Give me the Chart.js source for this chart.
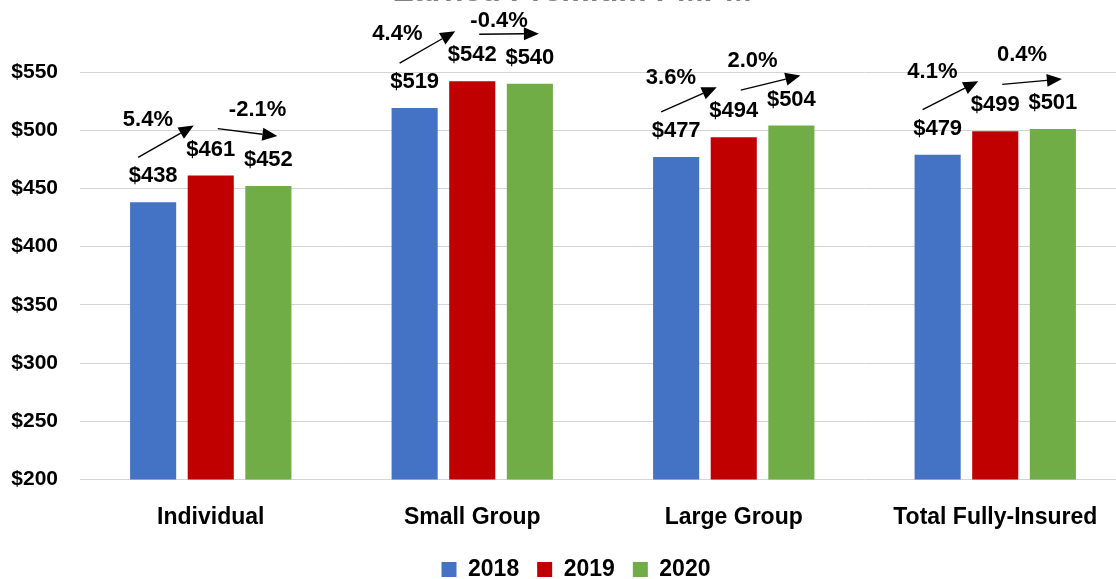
<!DOCTYPE html>
<html>
<head>
<meta charset="utf-8">
<script src="https://cdn.jsdelivr.net/npm/chart.js@4/dist/chart.umd.min.js"></script>
<style>
  html, body { margin: 0; padding: 0; background: #fff; overflow: hidden; }
  #wrap { position: absolute; left: 0; top: -20px; width: 1126px; height: 615px; }
</style>
</head>
<body>
<div id="wrap"><canvas id="premiumChart"></canvas></div>
<script>
// chart data
const titleText = 'Earned Premium PMPM';
const categories = ['Individual', 'Small Group', 'Large Group', 'Total Fully-Insured'];
const years = ['2018', '2019', '2020'];
const values2018 = [438, 519, 477, 479];
const values2019 = [461, 542, 494, 499];
const values2020 = [452, 540, 504, 501];
const change2019 = ['5.4%', '4.4%', '3.6%', '4.1%'];
const change2020 = ['-2.1%', '-0.4%', '2.0%', '0.4%'];
const yTicks = [200, 250, 300, 350, 400, 450, 500, 550];

// the % labels were placed by hand in the original, small per-group nudges
const nudge2019 = [[0, 0], [-12, 9], [0, 0], [0, -2]];
const nudge2020 = [[15, 0], [-5, 9], [-13, 0], [-5, -5]];

const FONT = "'Liberation Sans', Arial, sans-serif";

function drawArrow(ctx, x1, y1, x2, y2) {
    const ang = Math.atan2(y2 - y1, x2 - x1);
    const head = 15, half = 6.5;
    const bx = x2 - head * Math.cos(ang), by = y2 - head * Math.sin(ang);
    ctx.beginPath();
    ctx.moveTo(x1, y1);
    ctx.lineTo(bx, by);
    ctx.lineWidth = 1.4;
    ctx.strokeStyle = '#000';
    ctx.stroke();
    ctx.beginPath();
    ctx.moveTo(x2, y2);
    ctx.lineTo(bx + half * Math.sin(ang), by - half * Math.cos(ang));
    ctx.lineTo(bx - half * Math.sin(ang), by + half * Math.cos(ang));
    ctx.closePath();
    ctx.fillStyle = '#000';
    ctx.fill();
}

// value labels, change arrows and the clipped title
const annotations = {
    id: 'annotations',
    afterLayout(chart) {
        // nudge the legend a little to the right, like the original
        chart.legend.left += 13;
        chart.legend.right += 13;
    },
    afterDatasetsDraw(chart) {
        const ctx = chart.ctx;
        const metas = [0, 1, 2].map(i => chart.getDatasetMeta(i));
        ctx.save();
        ctx.textAlign = 'center';
        ctx.textBaseline = 'middle';
        ctx.fillStyle = '#000';
        ctx.font = 'bold 22px ' + FONT;
        metas.forEach((meta, di) => {
            meta.data.forEach((bar, i) => {
                const v = chart.data.datasets[di].data[i];
                ctx.fillText('$' + v, bar.x, bar.y - 26);
            });
        });
        categories.forEach((c, i) => {
            const b1 = metas[0].data[i], b2 = metas[1].data[i], b3 = metas[2].data[i];
            const a = [b1.x - 15, b1.y - 45, b2.x - 17, b2.y - 50];
            const b = [b2.x + 7, b2.y - 47, b3.x + 9, b3.y - 50];
            drawArrow(ctx, a[0], a[1], a[2], a[3]);
            drawArrow(ctx, b[0], b[1], b[2], b[3]);
            ctx.fillText(change2019[i], (a[0] + a[2]) / 2 - 18 + nudge2019[i][0], (a[1] + a[3]) / 2 - 22 + nudge2019[i][1]);
            ctx.fillText(change2020[i], (b[0] + b[2]) / 2 - 5 + nudge2020[i][0], (b[1] + b[3]) / 2 - 22 + nudge2020[i][1]);
        });
        ctx.font = 'bold 32px ' + FONT;
        ctx.fillStyle = '#808080';
        ctx.textBaseline = 'alphabetic';
        ctx.fillText(titleText, 572, 21);
        ctx.restore();
    }
};

const ctx = document.getElementById('premiumChart').getContext('2d');
new Chart(ctx, {
    type: 'bar',
    data: {
        labels: categories,
        datasets: [
            { label: years[0], data: values2018, backgroundColor: '#4472C4' },
            { label: years[1], data: values2019, backgroundColor: '#C00000' },
            { label: years[2], data: values2020, backgroundColor: '#70AD47' }
        ]
    },
    options: {
        responsive: true,
        maintainAspectRatio: false,
        animation: false,
        layout: { padding: { top: 92, left: 0, right: 0, bottom: 4 } },
        datasets: { bar: { barPercentage: 0.8, categoryPercentage: 0.661 } },
        scales: {
            x: {
                grid: { display: false },
                border: { display: false },
                afterFit: s => { s.height -= 7; },
                ticks: { color: '#000', font: { family: FONT, size: 23, weight: 'bold' }, padding: 16 }
            },
            y: {
                min: 200,
                max: 550,
                afterBuildTicks: s => { s.ticks = yTicks.map(v => ({ value: v })); },
                afterFit: s => { s.width = 80; },
                grid: { color: '#d4d4d4', lineWidth: 1, drawTicks: false },
                border: { display: false },
                ticks: {
                    color: '#000',
                    padding: 22,
                    font: { family: FONT, size: 21, weight: 'bold' },
                    callback: v => '$' + v
                }
            }
        },
        plugins: {
            legend: {
                position: 'bottom',
                labels: {
                    color: '#000',
                    boxWidth: 15,
                    boxHeight: 15,
                    padding: 18,
                    font: { family: FONT, size: 23, weight: 'bold' }
                }
            },
            tooltip: { enabled: false }
        }
    },
    plugins: [annotations]
});
</script>
</body>
</html>
